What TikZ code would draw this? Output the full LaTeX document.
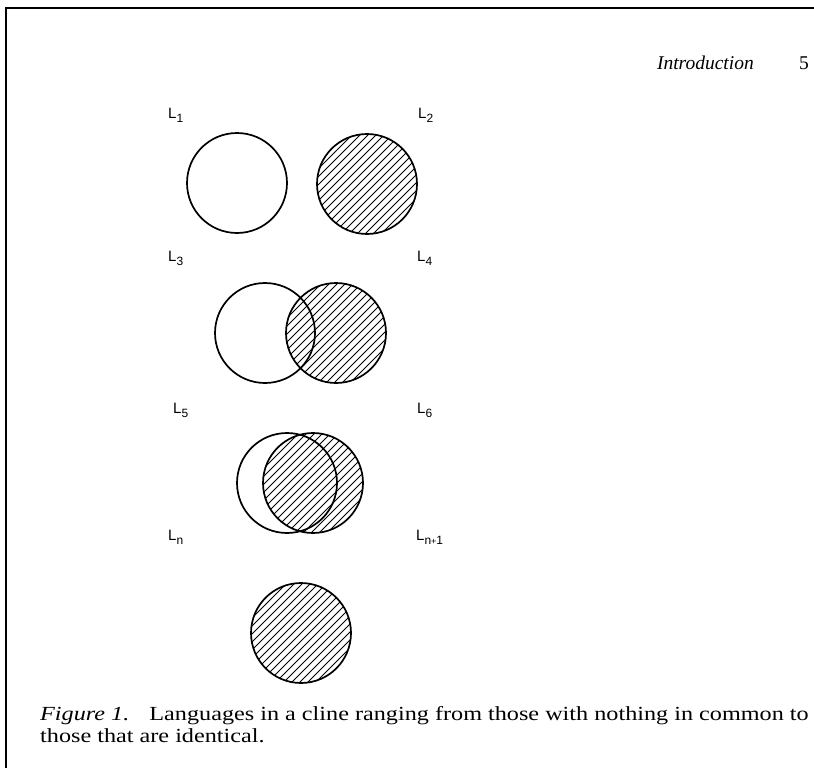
\documentclass[tikz,border=0pt]{standalone}
\usepackage{fontspec}
\setmainfont{Liberation Serif}
\newfontfamily\capfont[FakeStretch=1.21]{Liberation Serif}
\newfontfamily\labfont{Liberation Sans}
\newcommand{\lsub}[1]{\raisebox{-4pt}{\fontsize{12}{13}\selectfont #1}}
\begin{document}
\begin{tikzpicture}[x=1pt,y=-1pt,
  ring/.style={circle,draw=black,line width=1.7pt,minimum size=100pt,inner sep=0pt},
  hatched/.style={ring,path picture={
      \foreach \k in {-152,-144,...,152}
        \draw[line width=0.8pt,shift={(path picture bounding box.center)}] (\k-60,60) -- (\k+60,-60);}},
  lab/.style={anchor=base west,inner sep=0pt,font=\labfont\fontsize{15}{17}\selectfont},
  txt/.style={anchor=base west,inner sep=0pt,font=\fontsize{19.5}{22}\selectfont},
  captxt/.style={anchor=base west,inner sep=0pt,font=\capfont\fontsize{20}{22}\selectfont}]
\useasboundingbox (0,0) rectangle (814,768);
\fill[white] (0,0) rectangle (814,768);
\coordinate (b1) at (6,768);
\coordinate (b2) at (6,8);
\coordinate (b3) at (814,8);
\draw[line width=1.4pt] (b1) -- (b2) -- (b3);
% header
\node[txt,anchor=base east] (hdr) at (754,70) {\itshape Introduction};
\node[txt,anchor=base east] (pg) at (809,70) {5};
% row 1
\node[lab] (l1) at (168,118) {L\lsub{1}};
\node[lab] (l2) at (418,118) {L\lsub{2}};
\node[ring] (c1) at (237,183) {};
\node[hatched] (c2) at (367,184) {};
% row 2
\node[lab] (l3) at (168,261) {L\lsub{3}};
\node[lab] (l4) at (417,261) {L\lsub{4}};
\node[ring] (c3) at (265,333) {};
\node[hatched] (c4) at (336,333) {};
% row 3
\node[lab] (l5) at (173,413) {L\lsub{5}};
\node[lab] (l6) at (417,413) {L\lsub{6}};
\node[ring] (c5) at (287,483) {};
\node[hatched] (c6) at (313,483) {};
% row 4
\node[lab] (l7) at (168,540) {L\lsub{n}};
\node[lab] (l8) at (416,540) {L\lsub{n{\fontsize{9}{10}\selectfont+}1}};
\node[hatched] (c7) at (301,633) {};
% caption
\node[captxt] (cap1) at (40,720) {\textit{Figure 1.}\hspace{0.6em} Languages in a cline ranging from those with nothing in common to};
\node[captxt] (cap2) at (40,742) {those that are identical.};
\end{tikzpicture}
\end{document}
